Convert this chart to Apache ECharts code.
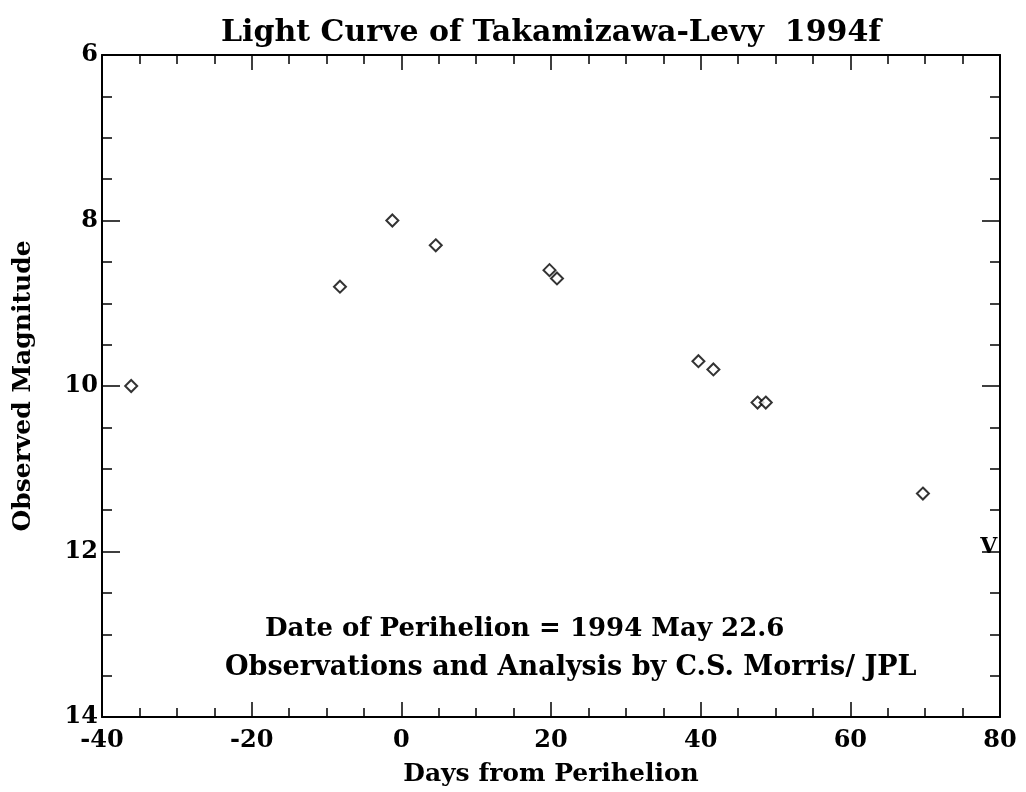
<!DOCTYPE html>
<html>
<head>
<meta charset="utf-8">
<title>Light Curve of Takamizawa-Levy 1994f</title>
<script src="https://cdn.jsdelivr.net/npm/echarts@6/dist/echarts.min.js"></script>
<style>
  html, body { margin: 0; padding: 0; background: #fff; }
  #chart { width: 1026px; height: 792px; }
</style>
</head>
<body>
<div id="chart"></div>
<script>
// days from perihelion / observed magnitude
const days = [-36.1, -8.2, -1.2, 4.6, 19.8, 20.8, 39.7, 41.7, 47.6, 48.7, 69.7]
const magnitudes = [10.0, 8.8, 8.0, 8.3, 8.6, 8.7, 9.7, 9.8, 10.2, 10.2, 11.3]
// visual limit marker ("V")
const limitDays = [78.5]
const limitMags = [11.95]

const FONT = 'DejaVu Serif'

const chart = echarts.init(document.getElementById('chart'))

const axisLine = { show: true, onZero: false, lineStyle: { color: '#000', width: 2 } }
const xTick = { inside: true, length: 15, lineStyle: { color: '#000', width: 1.5 } }
const xMinor = { show: true, splitNumber: 4, length: 9, lineStyle: { color: '#000', width: 1.5 } }
const yTick = { inside: true, length: 18, lineStyle: { color: '#000', width: 1.5 } }
const yMinor = { show: true, splitNumber: 4, length: 10, lineStyle: { color: '#000', width: 1.5 } }

chart.setOption({
  animation: false,
  backgroundColor: '#fff',
  title: {
    text: 'Light Curve of Takamizawa-Levy  1994f',
    left: 216,
    top: 13,
    textStyle: { fontFamily: FONT, fontWeight: 'bold', fontSize: 30, color: '#000' }
  },
  grid: { left: 102, right: 26, top: 55, bottom: 72 },
  xAxis: [
    {
      type: 'value',
      min: -40,
      max: 80,
      interval: 20,
      name: 'Days from Perihelion',
      nameLocation: 'middle',
      nameGap: 45,
      nameTextStyle: { fontFamily: FONT, fontWeight: 'bold', fontSize: 25, color: '#000' },
      axisLine,
      axisTick: xTick,
      minorTick: xMinor,
      splitLine: { show: false },
      axisLabel: { fontFamily: FONT, fontWeight: 'bold', fontSize: 24, color: '#000', margin: 12 }
    },
    {
      type: 'value',
      position: 'top',
      min: -40,
      max: 80,
      interval: 20,
      axisLine,
      axisTick: xTick,
      minorTick: xMinor,
      splitLine: { show: false },
      axisLabel: { show: false }
    }
  ],
  yAxis: [
    {
      type: 'value',
      inverse: true,
      min: 6,
      max: 14,
      interval: 2,
      name: 'Observed Magnitude',
      nameLocation: 'middle',
      nameGap: 66,
      nameTextStyle: { fontFamily: FONT, fontWeight: 'bold', fontSize: 25, color: '#000' },
      axisLine,
      axisTick: yTick,
      minorTick: yMinor,
      splitLine: { show: false },
      axisLabel: { fontFamily: FONT, fontWeight: 'bold', fontSize: 24, color: '#000', margin: 4 }
    },
    {
      type: 'value',
      position: 'right',
      inverse: true,
      min: 6,
      max: 14,
      interval: 2,
      axisLine,
      axisTick: yTick,
      minorTick: yMinor,
      splitLine: { show: false },
      axisLabel: { show: false }
    }
  ],
  series: [
    {
      name: 'Observed',
      type: 'scatter',
      symbol: 'diamond',
      symbolSize: [12, 12],
      itemStyle: { color: '#fff', borderColor: '#000', borderWidth: 2 },
      data: days.map((d, i) => [d, magnitudes[i]])
    },
    {
      name: 'Limit',
      type: 'scatter',
      symbol: 'rect',
      symbolSize: 4,
      itemStyle: { color: 'rgba(0,0,0,0)' },
      label: {
        show: true,
        position: 'inside',
        formatter: 'V',
        fontFamily: FONT,
        fontWeight: 900,
        fontSize: 22,
        color: '#000',
        opacity: 1,
        textBorderWidth: 0
      },
      data: limitDays.map((d, i) => [d, limitMags[i]])
    }
  ],
  graphic: [
    {
      type: 'text',
      left: 265,
      top: 616,
      style: {
        text: 'Date of Perihelion = 1994 May 22.6',
        font: 'bold 26px "DejaVu Serif"',
        fill: '#000'
      }
    },
    {
      type: 'text',
      left: 225,
      top: 654,
      style: {
        text: 'Observations and Analysis by C.S. Morris/ JPL',
        font: 'bold 27px "DejaVu Serif"',
        fill: '#000'
      }
    }
  ]
})
</script>
</body>
</html>
